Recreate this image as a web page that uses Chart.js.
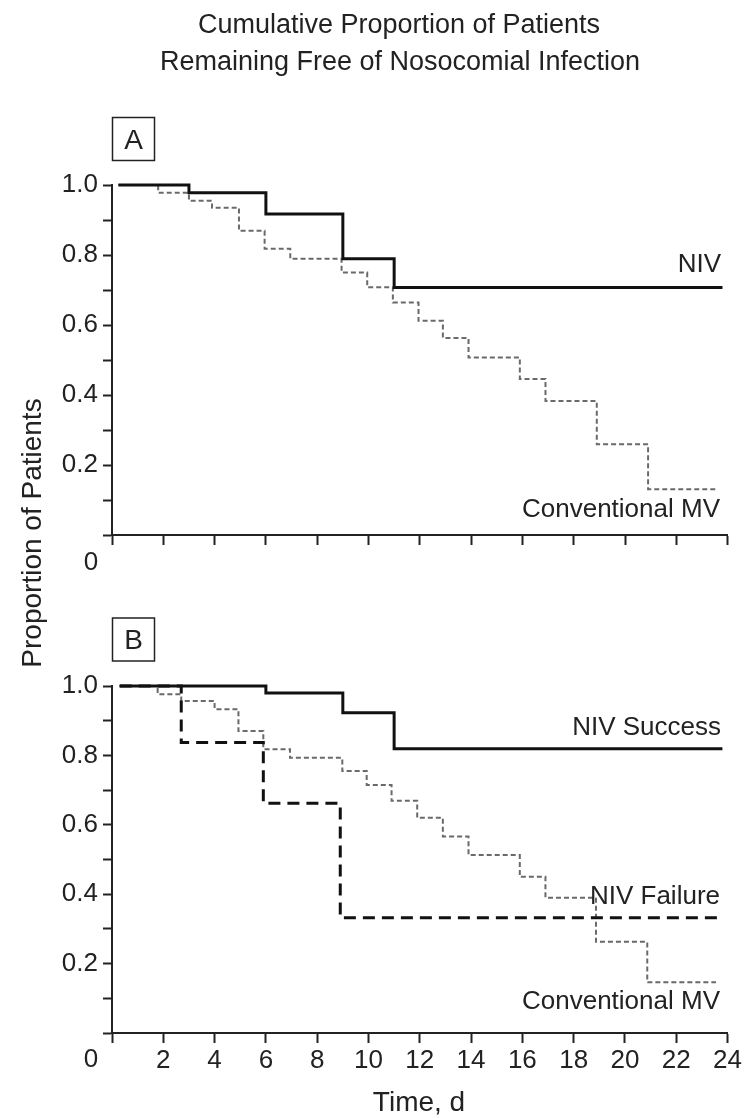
<!DOCTYPE html>
<html><head><meta charset="utf-8">
<script src="https://cdn.jsdelivr.net/npm/chart.js@4.4.1/dist/chart.umd.min.js"></script>
<style>
html,body{margin:0;padding:0;background:#fff;}
#wrap{position:relative;width:744px;height:1118px;background:#fff;}
canvas{position:absolute;left:0;top:0;}
</style></head><body>
<div id="wrap"><canvas id="cA" width="744" height="1118"></canvas><canvas id="cB" width="744" height="1118"></canvas></div>
<script>
// ---- Panel A data (time in days, cumulative proportion free of infection) ----
const nivA_t = [0.25, 3.0, 6.0, 9.0, 11.0, 23.8];
const nivA_s = [1.0, 0.978, 0.917, 0.789, 0.707, 0.707];
const cmvA_t = [0.25, 1.8, 3.0, 3.9, 4.95, 5.95, 6.95, 8.95, 9.95, 10.95, 11.95, 12.9, 13.9, 15.9, 16.9, 18.9, 20.9, 23.6];
const cmvA_s = [1.0, 0.978, 0.955, 0.935, 0.869, 0.818, 0.789, 0.750, 0.708, 0.664, 0.612, 0.563, 0.507, 0.446, 0.383, 0.259, 0.131, 0.131];
// ---- Panel B data ----
const nivSuccB_t = [0.3, 6.0, 9.0, 11.0, 23.8];
const nivSuccB_s = [1.0, 0.98, 0.923, 0.819, 0.819];
const nivFailB_t = [0.3, 2.7, 5.9, 8.9, 23.7];
const nivFailB_s = [1.0, 0.837, 0.662, 0.332, 0.332];
const cmvB_t = [0.3, 1.78, 2.7, 4.0, 4.93, 5.9, 6.94, 8.98, 9.93, 10.9, 11.9, 12.9, 13.9, 15.9, 16.9, 18.87, 20.87, 23.55];
const cmvB_s = [1.0, 0.976, 0.957, 0.933, 0.870, 0.818, 0.793, 0.755, 0.715, 0.669, 0.620, 0.566, 0.513, 0.450, 0.390, 0.263, 0.146, 0.146];
// ---- axis settings ----
const xMin = 0, xMax = 24, xStep = 2;
const yMin = 0, yMax = 1, yStep = 0.1;

const FONT = '"Liberation Sans", Arial, Helvetica, sans-serif';
const INK = '#222';

function pts(t, s) { return t.map((x, i) => ({x: x, y: s[i]})); }

function solid(label, data) {
  return {label, data, borderColor: '#111', borderWidth: 3, stepped: true, pointRadius: 0, fill: false, clip: false, borderJoinStyle: 'miter'};
}
function dashed(label, data) {
  return {label, data, borderColor: '#111', borderWidth: 3, borderDash: [12, 7], stepped: true, pointRadius: 0, fill: false, clip: false, borderJoinStyle: 'miter'};
}
function dotted(label, data) {
  return {label, data, borderColor: '#6a6a6a', borderWidth: 2, borderDash: [5, 3], stepped: true, pointRadius: 0, fill: false, clip: false, borderJoinStyle: 'miter'};
}

function txt(ctx, s, x, y, size, align, base) {
  ctx.save();
  ctx.fillStyle = INK;
  ctx.font = size + 'px ' + FONT;
  ctx.textAlign = align || 'left';
  ctx.textBaseline = base || 'alphabetic';
  ctx.fillText(s, x, y);
  ctx.restore();
}
function boxLabel(ctx, s, x, y, w, h) {
  ctx.save();
  ctx.strokeStyle = INK;
  ctx.lineWidth = 1.5;
  ctx.strokeRect(x, y, w, h);
  ctx.restore();
  txt(ctx, s, x + w / 2, y + h / 2 + 2, 28, 'center', 'middle');
}

function makeChart(id, datasets, padTop, padBottom, showXLabels, texts) {
  return new Chart(document.getElementById(id), {
    type: 'line',
    data: {datasets},
    options: {
      responsive: false,
      animation: false,
      devicePixelRatio: 1,
      layout: {padding: {top: padTop, bottom: padBottom, left: 0, right: 16.4}},
      plugins: {legend: {display: false}, tooltip: {enabled: false}, title: {display: false}},
      scales: {
        x: {
          type: 'linear', min: xMin, max: xMax,
          ticks: {stepSize: xStep, autoSkip: false, maxRotation: 0, padding: 2, color: INK,
            font: {family: FONT, size: 26},
            callback: (v) => (showXLabels && v !== 0) ? String(v) : ''},
          grid: {drawOnChartArea: false, drawTicks: true, tickLength: 10, tickWidth: 2, color: INK},
          border: {display: true, color: INK, width: 2},
          afterFit: (s) => { s.height = 45; }
        },
        y: {
          type: 'linear', min: yMin, max: yMax,
          ticks: {stepSize: yStep, autoSkip: false, padding: 5, color: INK,
            font: {family: FONT, size: 26},
            callback: (v) => { const k = Math.round(v * 10); return (k > 0 && k % 2 === 0) ? (k / 10).toFixed(1) : ''; }},
          grid: {drawOnChartArea: false, drawTicks: true, tickLength: 9, tickWidth: 2, color: INK},
          border: {display: true, color: INK, width: 2},
          afterFit: (s) => { s.width = 112; }
        }
      }
    },
    plugins: [{id: 'texts', afterDraw: (chart) => texts(chart.ctx)}]
  });
}

makeChart('cA', [
  solid('NIV', pts(nivA_t, nivA_s)),
  dotted('Conventional MV', pts(cmvA_t, cmvA_s))
], 185, 1118 - 535 - 45, false, (ctx) => {
  txt(ctx, 'Cumulative Proportion of Patients', 399, 33, 27, 'center');
  txt(ctx, 'Remaining Free of Nosocomial Infection', 400, 70, 27, 'center');
  ctx.save();
  ctx.translate(33, 533);
  ctx.rotate(-Math.PI / 2);
  txt(ctx, 'Proportion of Patients', 0, 0, 28, 'center', 'middle');
  ctx.restore();
  boxLabel(ctx, 'A', 112.5, 117.5, 42, 43);
  txt(ctx, '0', 91, 563, 26, 'center', 'middle');
  txt(ctx, 'NIV', 721, 272, 26, 'right');
  txt(ctx, 'Conventional MV', 720, 517, 26, 'right');
});

makeChart('cB', [
  solid('NIV Success', pts(nivSuccB_t, nivSuccB_s)),
  dashed('NIV Failure', pts(nivFailB_t, nivFailB_s)),
  dotted('Conventional MV', pts(cmvB_t, cmvB_s))
], 686, 1118 - 1033 - 45, true, (ctx) => {
  boxLabel(ctx, 'B', 112.5, 618, 42, 43);
  txt(ctx, '0', 91, 1060, 26, 'center', 'middle');
  txt(ctx, 'NIV Success', 721, 735, 26, 'right');
  txt(ctx, 'NIV Failure', 720, 904, 26, 'right');
  txt(ctx, 'Conventional MV', 720, 1009, 26, 'right');
  txt(ctx, 'Time, d', 419, 1111, 28, 'center');
});
</script>
</body></html>
